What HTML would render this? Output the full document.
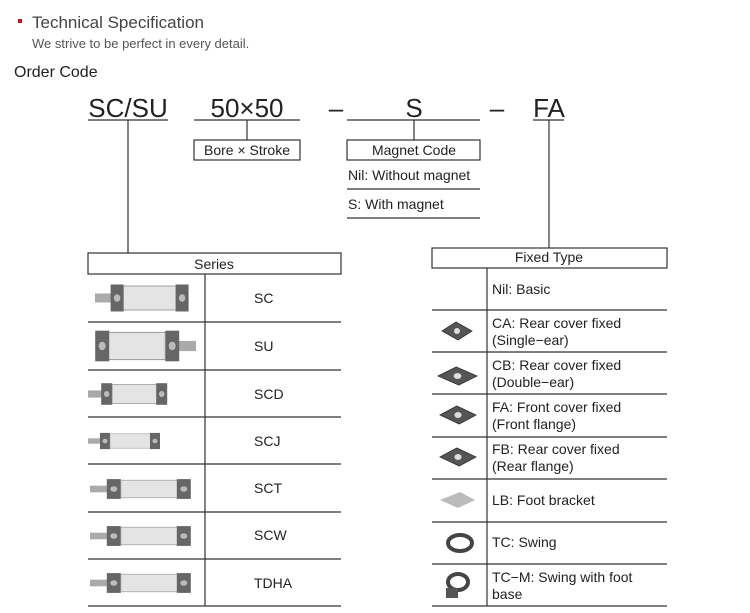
<!DOCTYPE html>
<html><head><meta charset="utf-8"><style>
body{margin:0;background:#fff;}
svg{display:block;font-family:"Liberation Sans",Arial,sans-serif;}
</style></head><body>
<svg width="750" height="613" viewBox="0 0 750 613" xmlns="http://www.w3.org/2000/svg">
<defs>
<g id="cyl">
  <rect x="0" y="-3" width="14" height="6" fill="#aaa"/>
  <rect x="12" y="-9" width="10" height="18" fill="#666"/>
  <rect x="22" y="-8" width="42" height="16" fill="#e4e4e4" stroke="#999" stroke-width="0.6"/>
  <rect x="62" y="-9" width="10" height="18" fill="#666"/>
  <circle cx="17" cy="0" r="2.5" fill="#bbb"/><circle cx="67" cy="0" r="2.5" fill="#bbb"/>
</g>
<g id="plate">
  <polygon points="0,0 14,-9 30,0 16,9" fill="#555" stroke="#333" stroke-width="0.8"/>
  <circle cx="15" cy="0" r="3" fill="#ddd"/>
</g>
</defs>
<rect x="18" y="19" width="4" height="4" fill="#d0101e"/>
<text x="32" y="28" font-size="17" fill="#444">Technical Specification</text>
<text x="32" y="48" font-size="13" fill="#555">We strive to be perfect in every detail.</text>
<text x="14" y="77" font-size="16" fill="#222">Order Code</text>

<g stroke="#333" stroke-width="1.2" fill="none">
<line x1="88" y1="120" x2="168" y2="120"/>
<line x1="194" y1="120" x2="300" y2="120"/>
<line x1="347" y1="120" x2="480" y2="120"/>
<line x1="533" y1="120" x2="564" y2="120"/>
<line x1="128" y1="120" x2="128" y2="253"/>
<line x1="247" y1="120" x2="247" y2="140"/>
<line x1="414" y1="120" x2="414" y2="140"/>
<line x1="549" y1="120" x2="549" y2="248"/>
<rect x="194" y="140" width="106" height="20"/>
<rect x="347" y="140" width="133" height="20"/>
<line x1="347" y1="189" x2="480" y2="189"/>
<line x1="347" y1="218" x2="480" y2="218"/>
<rect x="88" y="253" width="253" height="21"/>
<line x1="205" y1="274" x2="205" y2="606"/>
<line x1="88" y1="322" x2="341" y2="322"/><line x1="88" y1="370" x2="341" y2="370"/>
<line x1="88" y1="417" x2="341" y2="417"/><line x1="88" y1="464" x2="341" y2="464"/>
<line x1="88" y1="512" x2="341" y2="512"/><line x1="88" y1="559" x2="341" y2="559"/>
<line x1="88" y1="606" x2="341" y2="606"/>
<rect x="432" y="248" width="235" height="20"/>
<line x1="487" y1="268" x2="487" y2="606"/>
<line x1="432" y1="310" x2="667" y2="310"/><line x1="432" y1="352" x2="667" y2="352"/>
<line x1="432" y1="394" x2="667" y2="394"/><line x1="432" y1="437" x2="667" y2="437"/>
<line x1="432" y1="479" x2="667" y2="479"/><line x1="432" y1="522" x2="667" y2="522"/>
<line x1="432" y1="564" x2="667" y2="564"/><line x1="432" y1="606" x2="667" y2="606"/>
</g>
<g font-size="26" fill="#222" text-anchor="middle">
<text x="128" y="117">SC/SU</text>
<text x="247" y="117">50×50</text>
<text x="336" y="117">–</text>
<text x="414" y="117">S</text>
<text x="497" y="117">–</text>
<text x="549" y="117">FA</text>
</g>
<g font-size="14" fill="#222">
<text x="247" y="155" text-anchor="middle">Bore × Stroke</text>
<text x="414" y="155" text-anchor="middle">Magnet Code</text>
<text x="348" y="180">Nil: Without magnet</text>
<text x="348" y="209">S: With magnet</text>
<text x="214" y="269" text-anchor="middle">Series</text>
<text x="549" y="262" text-anchor="middle">Fixed Type</text>
<text x="254" y="303">SC</text><text x="254" y="351">SU</text>
<text x="254" y="399">SCD</text><text x="254" y="446">SCJ</text>
<text x="254" y="493">SCT</text><text x="254" y="540">SCW</text>
<text x="254" y="588">TDHA</text>
<text x="492" y="294">Nil: Basic</text>
<text x="492" y="328">CA: Rear cover fixed</text><text x="492" y="345">(Single−ear)</text>
<text x="492" y="370">CB: Rear cover fixed</text><text x="492" y="387">(Double−ear)</text>
<text x="492" y="412">FA: Front cover fixed</text><text x="492" y="429">(Front flange)</text>
<text x="492" y="454">FB: Rear cover fixed</text><text x="492" y="471">(Rear flange)</text>
<text x="492" y="505">LB: Foot bracket</text>
<text x="492" y="547">TC: Swing</text>
<text x="492" y="582">TC−M: Swing with foot</text><text x="492" y="599">base</text>
</g>
<use href="#cyl" transform="translate(95,298) scale(1.3,1.5)"/>
<use href="#cyl" transform="translate(196,346) scale(-1.4,1.7)"/>
<use href="#cyl" transform="translate(88,394) scale(1.1,1.2)"/>
<use href="#cyl" transform="translate(88,441) scale(1.0,0.9)"/>
<use href="#cyl" transform="translate(90,489) scale(1.4,1.1)"/>
<use href="#cyl" transform="translate(90,536) scale(1.4,1.1)"/>
<use href="#cyl" transform="translate(90,583) scale(1.4,1.1)"/>
<use href="#plate" transform="translate(442,331)"/>
<use href="#plate" transform="translate(438,376) scale(1.3,1)"/>
<use href="#plate" transform="translate(440,415) scale(1.2,1)"/>
<use href="#plate" transform="translate(440,457) scale(1.2,1)"/>
<polygon points="440,500 460,492 475,500 458,508" fill="#bbb"/>
<ellipse cx="460" cy="543" rx="12" ry="8" fill="none" stroke="#444" stroke-width="4"/>
<ellipse cx="458" cy="582" rx="10" ry="8" fill="none" stroke="#444" stroke-width="4"/>
<rect x="446" y="588" width="12" height="10" fill="#555"/>
</svg>
</body></html>
